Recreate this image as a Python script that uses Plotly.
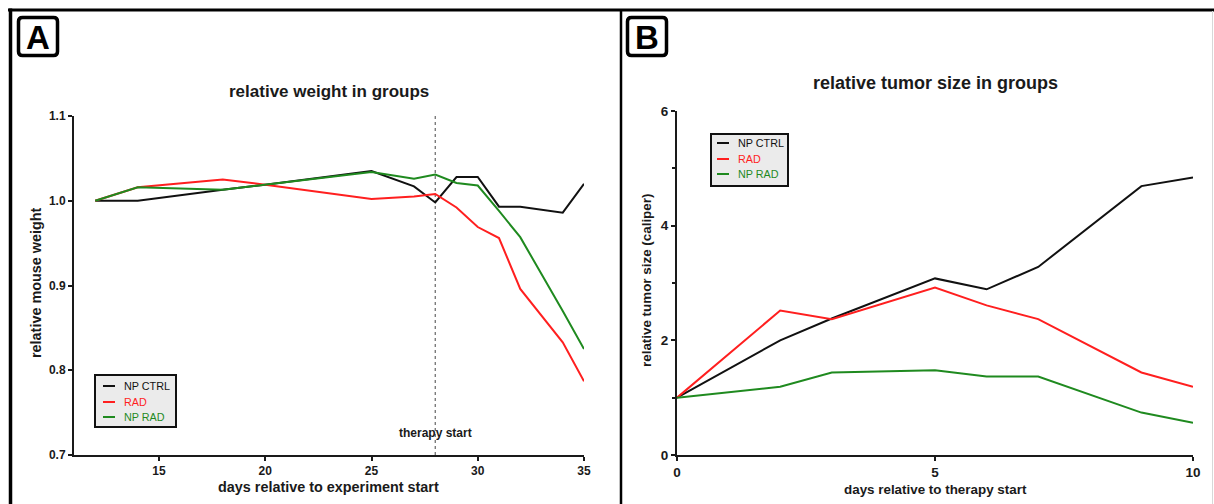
import plotly.graph_objects as go

# ---------------- data ----------------
series_names = ["NP CTRL", "RAD", "NP RAD"]
series_colors = ["#111111", "#ff1f1f", "#1f8a1f"]

weight_days = [12, 14, 18, 20, 25, 27, 28, 29, 30, 31, 32, 34, 35]
weight_np_ctrl = [1.000, 1.000, 1.013, 1.019, 1.035, 1.017, 0.998, 1.028, 1.028, 0.993, 0.993, 0.986, 1.020]
weight_rad = [1.000, 1.016, 1.025, 1.019, 1.002, 1.005, 1.008, 0.992, 0.969, 0.956, 0.896, 0.833, 0.787]
weight_np_rad = [1.000, 1.016, 1.013, 1.019, 1.034, 1.026, 1.031, 1.021, 1.018, 0.988, 0.957, 0.870, 0.825]

tumor_days = [0, 2, 3, 5, 6, 7, 9, 10]
tumor_np_ctrl = [1.00, 2.00, 2.38, 3.08, 2.89, 3.28, 4.69, 4.84]
tumor_rad = [1.00, 2.52, 2.37, 2.92, 2.61, 2.37, 1.44, 1.19]
tumor_np_rad = [1.00, 1.19, 1.44, 1.48, 1.37, 1.37, 0.74, 0.56]

weight_xticks = [15, 20, 25, 30, 35]
weight_yticks = [0.7, 0.8, 0.9, 1.0, 1.1]
tumor_xticks = [0, 5, 10]
tumor_yticks = [0, 2, 4, 6]
therapy_start_day = 28

# ---------------- layout helpers ----------------
W, H = 1214, 504
FONT = "Liberation Sans, Arial, sans-serif"


def px(x):
    return x / W


def py(y):
    return 1 - y / H


fig = go.Figure()

weight_series = [weight_np_ctrl, weight_rad, weight_np_rad]
tumor_series = [tumor_np_ctrl, tumor_rad, tumor_np_rad]

for name, color, ys in zip(series_names, series_colors, weight_series):
    fig.add_trace(go.Scatter(x=weight_days, y=ys, mode="lines", name=name,
                             line=dict(color=color, width=2), xaxis="x", yaxis="y",
                             showlegend=False))
for name, color, ys in zip(series_names, series_colors, tumor_series):
    fig.add_trace(go.Scatter(x=tumor_days, y=ys, mode="lines", name=name,
                             line=dict(color=color, width=2), xaxis="x2", yaxis="y2",
                             showlegend=False))

axis_common = dict(showgrid=False, zeroline=False, showline=True, linecolor="#1a1a1a",
                   linewidth=2, ticks="outside", ticklen=4, tickwidth=1.5,
                   tickcolor="#1a1a1a", automargin=False)

fig.update_layout(
    width=W, height=H,
    margin=dict(l=0, r=0, t=0, b=0),
    paper_bgcolor="white", plot_bgcolor="white",
    font=dict(family=FONT, color="#1a1a1a"),
    xaxis=dict(domain=[px(74), px(584)], range=[11, 35], tickvals=weight_xticks,
               tickfont=dict(size=12, family=FONT, weight="bold"), anchor="y", **axis_common),
    yaxis=dict(domain=[py(455), py(116)], range=[0.7, 1.1], tickvals=weight_yticks,
               tickformat=".1f", tickfont=dict(size=12, family=FONT, weight="bold"),
               anchor="x", **axis_common),
    xaxis2=dict(domain=[px(677), px(1193)], range=[0, 10], tickvals=tumor_xticks,
                tickfont=dict(size=13.5, family=FONT, weight="bold"), anchor="y2", **axis_common),
    yaxis2=dict(domain=[py(455), py(111)], range=[0, 6], tickvals=tumor_yticks,
                tickfont=dict(size=13.5, family=FONT, weight="bold"), anchor="x2",
                minor=dict(dtick=1, ticks="outside", ticklen=3, tickcolor="#1a1a1a", tickwidth=1.5),
                **axis_common),
)

shapes = []
annotations = []

# therapy start dotted line
shapes.append(dict(type="line", xref="x", yref="y", x0=therapy_start_day, x1=therapy_start_day,
                   y0=0.7, y1=1.1, line=dict(color="#666666", width=1.2, dash="dot"), layer="below"))
annotations.append(dict(text="<b>therapy start</b>", xref="x", yref="paper", x=therapy_start_day,
                        y=py(433), showarrow=False, xanchor="center", yanchor="middle",
                        font=dict(size=12, family=FONT, color="#1a1a1a")))

# frame lines
shapes.append(dict(type="line", xref="paper", yref="paper", x0=px(8), x1=1, y0=py(10), y1=py(10),
                   line=dict(color="black", width=3)))
shapes.append(dict(type="line", xref="paper", yref="paper", x0=px(10.5), x1=px(10.5), y0=py(8.5), y1=0,
                   line=dict(color="black", width=3.5)))
shapes.append(dict(type="line", xref="paper", yref="paper", x0=px(621), x1=px(621), y0=py(10), y1=0,
                   line=dict(color="black", width=2.5)))
shapes.append(dict(type="line", xref="paper", yref="paper", x0=px(1212.5), x1=px(1212.5), y0=py(11), y1=0,
                   line=dict(color="#d8d8d8", width=1)))


# panel letter boxes (rounded)
def rounded_box(x0, y0, x1, y1, r):
    X0, X1 = px(x0), px(x1)
    Y0, Y1 = py(y0), py(y1)
    rx, ry = r / W, r / H
    return (f"M {X0+rx},{Y0} L {X1-rx},{Y0} Q {X1},{Y0} {X1},{Y0-ry} "
            f"L {X1},{Y1+ry} Q {X1},{Y1} {X1-rx},{Y1} L {X0+rx},{Y1} "
            f"Q {X0},{Y1} {X0},{Y1+ry} L {X0},{Y0-ry} Q {X0},{Y0} {X0+rx},{Y0} Z")


for (bx0, label) in [(18.5, "A"), (627.5, "B")]:
    shapes.append(dict(type="path", xref="paper", yref="paper",
                       path=rounded_box(bx0, 17.5, bx0 + 39, 55.5, 4),
                       line=dict(color="black", width=3.5), fillcolor="white"))
    annotations.append(dict(text=f"<b>{label}</b>", xref="paper", yref="paper", x=px(bx0 + 19.5),
                            y=py(37.5), showarrow=False, xanchor="center", yanchor="middle",
                            font=dict(size=33, family=FONT, color="black")))

# titles
annotations += [
    dict(text="<b>relative weight in groups</b>", x=px(329), y=py(91), font=dict(size=17)),
    dict(text="<b>relative tumor size in groups</b>", x=px(935), y=py(83), font=dict(size=18)),
    dict(text="<b>days relative to experiment start</b>", x=px(329), y=py(487), font=dict(size=14.4)),
    dict(text="<b>days relative to therapy start</b>", x=px(935), y=py(489), font=dict(size=13.4)),
    dict(text="<b>relative mouse weight</b>", x=px(36), y=py(283), textangle=-90, font=dict(size=14.4)),
    dict(text="<b>relative tumor size (caliper)</b>", x=px(646.5), y=py(280.5), textangle=-90,
         font=dict(size=13.4)),
]
for a in annotations[-6:]:
    a.update(xref="paper", yref="paper", showarrow=False, xanchor="center", yanchor="middle")
    a["font"].update(family=FONT, color="#1a1a1a")


# manual legends
def add_legend(x0, y0, x1, y1, rows, lx0, lx1, tx):
    shapes.append(dict(type="rect", xref="paper", yref="paper", x0=px(x0), x1=px(x1),
                       y0=py(y0), y1=py(y1), line=dict(color="#111111", width=2),
                       fillcolor="#ebebeb"))
    for name, color, ry in zip(series_names, series_colors, rows):
        shapes.append(dict(type="line", xref="paper", yref="paper", x0=px(lx0), x1=px(lx1),
                           y0=py(ry), y1=py(ry), line=dict(color=color, width=2)))
        annotations.append(dict(text=name, xref="paper", yref="paper", x=px(tx), y=py(ry),
                                showarrow=False, xanchor="left", yanchor="middle",
                                font=dict(size=10.8, family=FONT, color=color)))


add_legend(95, 375, 176, 427, [386, 402, 417], 103, 115, 122)
add_legend(711, 134, 788, 186, [143, 159, 174], 717, 729, 736)

fig.update_layout(shapes=shapes, annotations=annotations)

fig.write_html("out.html")
